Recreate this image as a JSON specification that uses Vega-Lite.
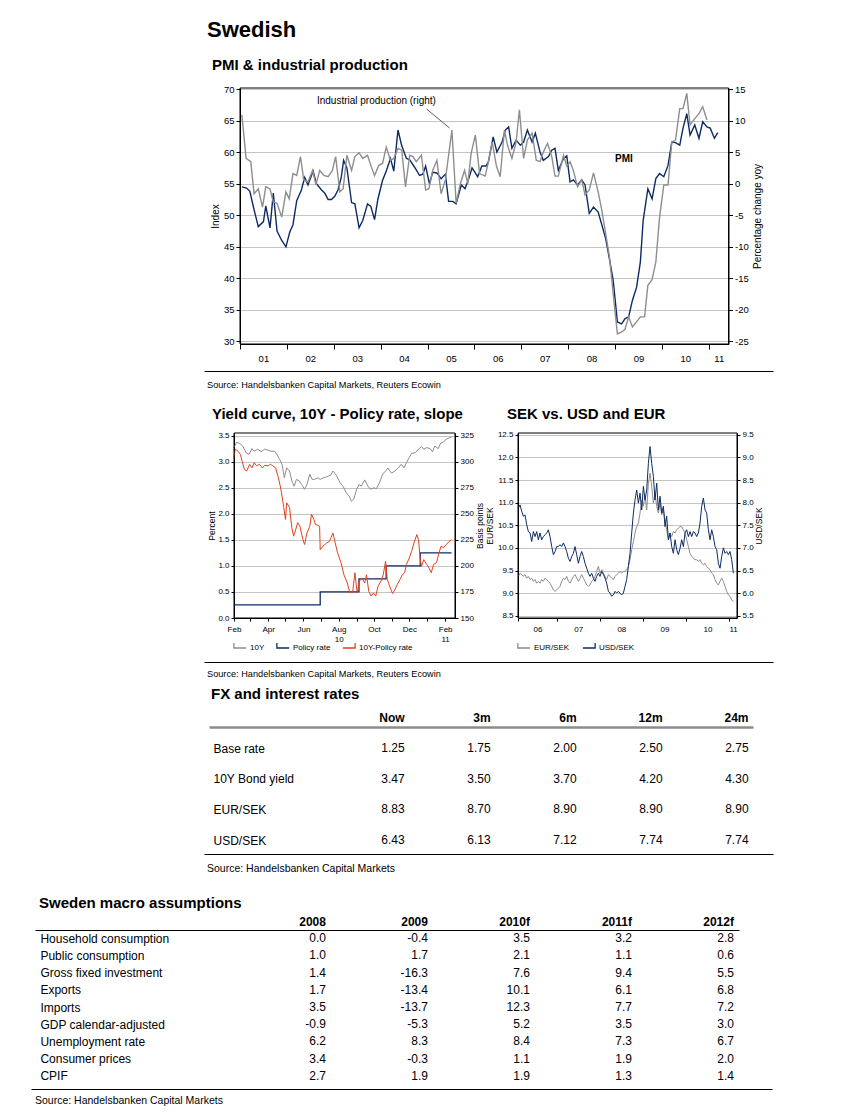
{
"$schema": "https://vega.github.io/schema/vega-lite/v6.json",
"background": "white",
"padding": 0,
"spacing": 0,
"bounds": "flush",
"resolve": {"scale": {"color": "independent"}, "legend": {"color": "independent"}},
"config": {
  "font": "Liberation Sans",
  "view": {"stroke": null},
  "locale": {"number": {"decimal": ".", "thousands": ",", "grouping": [3], "currency": ["$", ""], "minus": "-"}},
  "axis": {"labelColor": "black", "titleColor": "black", "domainColor": "black", "tickColor": "black", "gridColor": "#c4c4c4", "titleFontWeight": "normal", "labelFont": "Liberation Sans", "titleFont": "Liberation Sans", "labelOverlap": false},
  "title": {"anchor": "start", "frame": "group", "baseline": "alphabetic", "color": "black", "fontWeight": "bold", "font": "Liberation Sans"},
  "legend": {"labelFont": "Liberation Sans", "labelColor": "black"},
  "text": {"color": "black", "font": "Liberation Sans"},
  "concat": {"spacing": 0}
},
"datasets": {
  "pmi": [{"t":2001.04,"v":54.5},{"t":2001.14,"v":54.3},{"t":2001.21,"v":53.8},{"t":2001.28,"v":51.5},{"t":2001.39,"v":48.2},{"t":2001.5,"v":49},{"t":2001.55,"v":51.5},{"t":2001.64,"v":48},{"t":2001.71,"v":53.5},{"t":2001.79,"v":47.5},{"t":2001.89,"v":46},{"t":2001.98,"v":45},{"t":2002.06,"v":47.3},{"t":2002.13,"v":48.5},{"t":2002.21,"v":52.3},{"t":2002.31,"v":54},{"t":2002.38,"v":56},{"t":2002.45,"v":54.8},{"t":2002.56,"v":57},{"t":2002.63,"v":55},{"t":2002.74,"v":54},{"t":2002.81,"v":53.5},{"t":2002.88,"v":52.5},{"t":2002.95,"v":52.5},{"t":2003.02,"v":53},{"t":2003.09,"v":54},{"t":2003.16,"v":56},{"t":2003.21,"v":58.7},{"t":2003.28,"v":57.5},{"t":2003.38,"v":52},{"t":2003.45,"v":51.8},{"t":2003.54,"v":48},{"t":2003.62,"v":49.2},{"t":2003.72,"v":51.8},{"t":2003.79,"v":51.4},{"t":2003.87,"v":49.3},{"t":2003.94,"v":52.5},{"t":2004.04,"v":55.5},{"t":2004.12,"v":57},{"t":2004.21,"v":59},{"t":2004.28,"v":57},{"t":2004.37,"v":63.5},{"t":2004.45,"v":61},{"t":2004.55,"v":59},{"t":2004.62,"v":58.8},{"t":2004.69,"v":58},{"t":2004.76,"v":57.2},{"t":2004.83,"v":56.3},{"t":2004.9,"v":56.5},{"t":2004.96,"v":57.8},{"t":2005.04,"v":55},{"t":2005.11,"v":56.8},{"t":2005.2,"v":56.7},{"t":2005.29,"v":55.8},{"t":2005.38,"v":56.5},{"t":2005.45,"v":52.2},{"t":2005.54,"v":52.2},{"t":2005.61,"v":51.8},{"t":2005.72,"v":54.8},{"t":2005.8,"v":54.2},{"t":2005.88,"v":55.8},{"t":2005.95,"v":57.5},{"t":2006.07,"v":56.1},{"t":2006.16,"v":57.8},{"t":2006.25,"v":57.8},{"t":2006.3,"v":58.5},{"t":2006.4,"v":62.4},{"t":2006.48,"v":60},{"t":2006.59,"v":61.6},{"t":2006.66,"v":63.5},{"t":2006.73,"v":64},{"t":2006.8,"v":60.6},{"t":2006.89,"v":61.9},{"t":2006.98,"v":61.1},{"t":2007.05,"v":61.6},{"t":2007.13,"v":63.5},{"t":2007.23,"v":61.6},{"t":2007.3,"v":63},{"t":2007.4,"v":60},{"t":2007.47,"v":58.7},{"t":2007.58,"v":59.3},{"t":2007.65,"v":60.3},{"t":2007.72,"v":60.6},{"t":2007.79,"v":57.1},{"t":2007.9,"v":59},{"t":2007.97,"v":59.4},{"t":2008.04,"v":55.3},{"t":2008.11,"v":55.6},{"t":2008.2,"v":54.8},{"t":2008.29,"v":55.6},{"t":2008.36,"v":54.8},{"t":2008.45,"v":50.3},{"t":2008.54,"v":51.3},{"t":2008.64,"v":50.5},{"t":2008.71,"v":48.7},{"t":2008.8,"v":46.3},{"t":2008.88,"v":43.1},{"t":2008.96,"v":39.7},{"t":2009.05,"v":33.1},{"t":2009.14,"v":32.8},{"t":2009.21,"v":33.6},{"t":2009.29,"v":33.9},{"t":2009.37,"v":36.5},{"t":2009.46,"v":38.6},{"t":2009.54,"v":42.6},{"t":2009.6,"v":49.2},{"t":2009.7,"v":54.2},{"t":2009.79,"v":52.6},{"t":2009.87,"v":55.8},{"t":2009.95,"v":56.6},{"t":2010.04,"v":56.1},{"t":2010.13,"v":57.9},{"t":2010.21,"v":61.6},{"t":2010.29,"v":61.5},{"t":2010.38,"v":61.1},{"t":2010.45,"v":63.8},{"t":2010.53,"v":66.1},{"t":2010.6,"v":62.7},{"t":2010.7,"v":64.3},{"t":2010.79,"v":62.2},{"t":2010.87,"v":64.8},{"t":2010.96,"v":64},{"t":2011.03,"v":63.8},{"t":2011.12,"v":62.2},{"t":2011.19,"v":63.1}],
  "ip": [{"t":2001.04,"v":10.9},{"t":2001.13,"v":4},{"t":2001.23,"v":3.5},{"t":2001.3,"v":-1.6},{"t":2001.39,"v":-0.8},{"t":2001.48,"v":-3.7},{"t":2001.55,"v":-0.5},{"t":2001.64,"v":-0.8},{"t":2001.71,"v":-2.9},{"t":2001.79,"v":-3.1},{"t":2001.89,"v":-5.3},{"t":2001.98,"v":-1.3},{"t":2002.05,"v":-2.4},{"t":2002.13,"v":1.6},{"t":2002.21,"v":1.3},{"t":2002.29,"v":4.3},{"t":2002.36,"v":0.6},{"t":2002.45,"v":0.3},{"t":2002.55,"v":2.1},{"t":2002.62,"v":-0.2},{"t":2002.7,"v":2.1},{"t":2002.79,"v":1.3},{"t":2002.88,"v":1.1},{"t":2002.97,"v":2.1},{"t":2003.04,"v":4.3},{"t":2003.13,"v":-1.3},{"t":2003.2,"v":-0.8},{"t":2003.28,"v":4.5},{"t":2003.38,"v":2.1},{"t":2003.45,"v":4.3},{"t":2003.54,"v":4.9},{"t":2003.62,"v":4},{"t":2003.72,"v":4.5},{"t":2003.8,"v":2.7},{"t":2003.87,"v":1.3},{"t":2003.96,"v":2.9},{"t":2004.04,"v":3.2},{"t":2004.12,"v":5.8},{"t":2004.21,"v":3.7},{"t":2004.28,"v":4},{"t":2004.37,"v":5.6},{"t":2004.45,"v":5.3},{"t":2004.53,"v":-0.5},{"t":2004.62,"v":4.5},{"t":2004.69,"v":4.3},{"t":2004.76,"v":3.5},{"t":2004.87,"v":4.5},{"t":2004.96,"v":-1},{"t":2005.03,"v":-0.8},{"t":2005.11,"v":2.1},{"t":2005.2,"v":3.7},{"t":2005.29,"v":-1.6},{"t":2005.38,"v":0.6},{"t":2005.45,"v":4.5},{"t":2005.52,"v":8.5},{"t":2005.61,"v":-3.1},{"t":2005.7,"v":0},{"t":2005.79,"v":2.1},{"t":2005.86,"v":0},{"t":2005.93,"v":4.8},{"t":2006.02,"v":7.7},{"t":2006.11,"v":1.6},{"t":2006.23,"v":1.2},{"t":2006.3,"v":3.5},{"t":2006.38,"v":6.6},{"t":2006.47,"v":2.8},{"t":2006.55,"v":1.1},{"t":2006.64,"v":8.5},{"t":2006.71,"v":6},{"t":2006.8,"v":4},{"t":2006.89,"v":6.6},{"t":2006.96,"v":11.7},{"t":2007.05,"v":4},{"t":2007.13,"v":6.9},{"t":2007.23,"v":8},{"t":2007.32,"v":3.7},{"t":2007.4,"v":3.5},{"t":2007.47,"v":5},{"t":2007.56,"v":6.4},{"t":2007.65,"v":4.3},{"t":2007.72,"v":1.2},{"t":2007.79,"v":1.2},{"t":2007.9,"v":4.5},{"t":2007.97,"v":2.8},{"t":2008.04,"v":3.5},{"t":2008.11,"v":2.1},{"t":2008.2,"v":-0.5},{"t":2008.29,"v":0.6},{"t":2008.36,"v":-1.8},{"t":2008.45,"v":-1},{"t":2008.54,"v":1.7},{"t":2008.64,"v":-1.3},{"t":2008.71,"v":-3.9},{"t":2008.8,"v":-7.9},{"t":2008.88,"v":-11.6},{"t":2008.96,"v":-17.4},{"t":2009.05,"v":-23.8},{"t":2009.14,"v":-23.5},{"t":2009.21,"v":-23.1},{"t":2009.29,"v":-21.1},{"t":2009.37,"v":-22.7},{"t":2009.46,"v":-21.9},{"t":2009.54,"v":-21.1},{"t":2009.63,"v":-21.1},{"t":2009.7,"v":-16.1},{"t":2009.79,"v":-15.2},{"t":2009.87,"v":-12.4},{"t":2009.95,"v":-5.3},{"t":2010.04,"v":-0.2},{"t":2010.13,"v":-0.2},{"t":2010.21,"v":6.6},{"t":2010.29,"v":6.9},{"t":2010.38,"v":11.9},{"t":2010.45,"v":11.9},{"t":2010.53,"v":14.3},{"t":2010.6,"v":9.3},{"t":2010.7,"v":10.3},{"t":2010.79,"v":11.1},{"t":2010.87,"v":12.2},{"t":2010.96,"v":10.1}],
  "y10": [{"d":"2010-02-01","v":3.27},{"d":"2010-02-05","v":3.37},{"d":"2010-02-11","v":3.35},{"d":"2010-02-16","v":3.3},{"d":"2010-02-22","v":3.17},{"d":"2010-02-27","v":3.14},{"d":"2010-03-04","v":3.25},{"d":"2010-03-08","v":3.2},{"d":"2010-03-14","v":3.24},{"d":"2010-03-20","v":3.19},{"d":"2010-03-26","v":3.24},{"d":"2010-04-01","v":3.22},{"d":"2010-04-06","v":3.2},{"d":"2010-04-12","v":3.2},{"d":"2010-04-16","v":3.14},{"d":"2010-04-21","v":3.04},{"d":"2010-04-25","v":2.95},{"d":"2010-04-29","v":2.69},{"d":"2010-05-03","v":2.88},{"d":"2010-05-08","v":2.82},{"d":"2010-05-12","v":2.63},{"d":"2010-05-16","v":2.53},{"d":"2010-05-20","v":2.66},{"d":"2010-05-25","v":2.63},{"d":"2010-05-29","v":2.56},{"d":"2010-06-03","v":2.47},{"d":"2010-06-07","v":2.56},{"d":"2010-06-12","v":2.76},{"d":"2010-06-16","v":2.66},{"d":"2010-06-20","v":2.66},{"d":"2010-06-26","v":2.69},{"d":"2010-06-30","v":2.66},{"d":"2010-07-05","v":2.69},{"d":"2010-07-11","v":2.71},{"d":"2010-07-18","v":2.74},{"d":"2010-07-22","v":2.82},{"d":"2010-07-28","v":2.74},{"d":"2010-08-03","v":2.6},{"d":"2010-08-09","v":2.52},{"d":"2010-08-14","v":2.4},{"d":"2010-08-19","v":2.34},{"d":"2010-08-23","v":2.24},{"d":"2010-08-27","v":2.28},{"d":"2010-09-01","v":2.47},{"d":"2010-09-05","v":2.56},{"d":"2010-09-09","v":2.53},{"d":"2010-09-15","v":2.65},{"d":"2010-09-21","v":2.52},{"d":"2010-09-25","v":2.47},{"d":"2010-10-01","v":2.5},{"d":"2010-10-05","v":2.48},{"d":"2010-10-11","v":2.61},{"d":"2010-10-16","v":2.76},{"d":"2010-10-21","v":2.82},{"d":"2010-10-25","v":2.88},{"d":"2010-10-31","v":2.78},{"d":"2010-11-06","v":2.82},{"d":"2010-11-12","v":2.88},{"d":"2010-11-17","v":2.95},{"d":"2010-11-22","v":2.88},{"d":"2010-11-26","v":2.98},{"d":"2010-12-01","v":3.08},{"d":"2010-12-05","v":3.16},{"d":"2010-12-11","v":3.17},{"d":"2010-12-17","v":3.24},{"d":"2010-12-22","v":3.29},{"d":"2010-12-26","v":3.24},{"d":"2010-12-31","v":3.27},{"d":"2011-01-06","v":3.25},{"d":"2011-01-10","v":3.19},{"d":"2011-01-14","v":3.3},{"d":"2011-01-20","v":3.25},{"d":"2011-01-24","v":3.35},{"d":"2011-01-29","v":3.38},{"d":"2011-02-03","v":3.43},{"d":"2011-02-09","v":3.46},{"d":"2011-02-12","v":3.47}],
  "spread": [{"d":"2010-02-01","v":304},{"d":"2010-02-03","v":312},{"d":"2010-02-08","v":310},{"d":"2010-02-12","v":307},{"d":"2010-02-15","v":300.5},{"d":"2010-02-19","v":292.5},{"d":"2010-02-23","v":291},{"d":"2010-02-28","v":297.5},{"d":"2010-03-04","v":294},{"d":"2010-03-08","v":299},{"d":"2010-03-12","v":296},{"d":"2010-03-17","v":297.5},{"d":"2010-03-22","v":294},{"d":"2010-03-26","v":296.5},{"d":"2010-04-01","v":296},{"d":"2010-04-05","v":297.5},{"d":"2010-04-09","v":296},{"d":"2010-04-14","v":294},{"d":"2010-04-18","v":286},{"d":"2010-04-22","v":276.5},{"d":"2010-04-25","v":267},{"d":"2010-04-28","v":256},{"d":"2010-05-01","v":244.5},{"d":"2010-05-03","v":260.5},{"d":"2010-05-08","v":256},{"d":"2010-05-12","v":236.5},{"d":"2010-05-15","v":228.5},{"d":"2010-05-18","v":233.5},{"d":"2010-05-22","v":241.5},{"d":"2010-05-26","v":238},{"d":"2010-05-31","v":225.5},{"d":"2010-06-03","v":220.5},{"d":"2010-06-07","v":231.5},{"d":"2010-06-12","v":238},{"d":"2010-06-15","v":249.5},{"d":"2010-06-19","v":244.5},{"d":"2010-06-22","v":239.5},{"d":"2010-06-26","v":239},{"d":"2010-06-29","v":238},{"d":"2010-06-30","v":215.5},{"d":"2010-07-05","v":219},{"d":"2010-07-11","v":222},{"d":"2010-07-16","v":223.5},{"d":"2010-07-22","v":231.5},{"d":"2010-07-26","v":222},{"d":"2010-07-30","v":212.5},{"d":"2010-08-05","v":203},{"d":"2010-08-10","v":191.5},{"d":"2010-08-16","v":183.5},{"d":"2010-08-20","v":174.5},{"d":"2010-08-25","v":174.5},{"d":"2010-08-29","v":193.5},{"d":"2010-09-02","v":174},{"d":"2010-09-06","v":185.5},{"d":"2010-09-10","v":188.5},{"d":"2010-09-15","v":183.5},{"d":"2010-09-18","v":191.5},{"d":"2010-09-22","v":175.5},{"d":"2010-09-26","v":171},{"d":"2010-09-30","v":174},{"d":"2010-10-04","v":171},{"d":"2010-10-08","v":180.5},{"d":"2010-10-13","v":185.5},{"d":"2010-10-17","v":191.5},{"d":"2010-10-21","v":204.5},{"d":"2010-10-24","v":187},{"d":"2010-10-28","v":180.5},{"d":"2010-11-02","v":173.5},{"d":"2010-11-06","v":177},{"d":"2010-11-10","v":182},{"d":"2010-11-15","v":187},{"d":"2010-11-19","v":191.5},{"d":"2010-11-23","v":193.5},{"d":"2010-11-26","v":201.5},{"d":"2010-12-01","v":207.5},{"d":"2010-12-05","v":214},{"d":"2010-12-09","v":222},{"d":"2010-12-14","v":230},{"d":"2010-12-17","v":225},{"d":"2010-12-20","v":206},{"d":"2010-12-22","v":199.5},{"d":"2010-12-26","v":206},{"d":"2010-12-31","v":201.5},{"d":"2011-01-04","v":198},{"d":"2011-01-08","v":193.5},{"d":"2011-01-12","v":201.5},{"d":"2011-01-17","v":203},{"d":"2011-01-21","v":212},{"d":"2011-01-25","v":219},{"d":"2011-01-29","v":217.5},{"d":"2011-02-03","v":220.5},{"d":"2011-02-08","v":223.5},{"d":"2011-02-12","v":225}],
  "policy": [{"d":"2010-02-01","v":0.25},{"d":"2010-06-30","v":0.5},{"d":"2010-09-05","v":0.75},{"d":"2010-10-22","v":1.0},{"d":"2010-12-20","v":1.25},{"d":"2011-02-12","v":1.25}],
  "sek": [{"t":2006.111,"eur":9.37,"usd":7.88},{"t":2006.149,"eur":9.44,"usd":7.95},{"t":2006.188,"eur":9.41,"usd":7.81},{"t":2006.227,"eur":9.37,"usd":7.7},{"t":2006.265,"eur":9.41,"usd":7.73},{"t":2006.304,"eur":9.33,"usd":7.51},{"t":2006.343,"eur":9.37,"usd":7.36},{"t":2006.381,"eur":9.3,"usd":7.33},{"t":2006.42,"eur":9.33,"usd":7.14},{"t":2006.459,"eur":9.26,"usd":7.36},{"t":2006.497,"eur":9.3,"usd":7.25},{"t":2006.536,"eur":9.22,"usd":7.36},{"t":2006.575,"eur":9.26,"usd":7.18},{"t":2006.613,"eur":9.22,"usd":7.33},{"t":2006.652,"eur":9.3,"usd":7.18},{"t":2006.691,"eur":9.26,"usd":7.25},{"t":2006.729,"eur":9.33,"usd":7.29},{"t":2006.768,"eur":9.3,"usd":7.33},{"t":2006.807,"eur":9.26,"usd":7.4},{"t":2006.845,"eur":9.22,"usd":7.25},{"t":2006.884,"eur":9.15,"usd":7.03},{"t":2006.923,"eur":9.07,"usd":6.85},{"t":2006.961,"eur":9.04,"usd":6.92},{"t":2007.0,"eur":9.07,"usd":7.03},{"t":2007.039,"eur":9.11,"usd":7.03},{"t":2007.077,"eur":9.15,"usd":7.07},{"t":2007.116,"eur":9.26,"usd":7.03},{"t":2007.155,"eur":9.33,"usd":7.11},{"t":2007.193,"eur":9.3,"usd":7.03},{"t":2007.232,"eur":9.37,"usd":6.92},{"t":2007.271,"eur":9.26,"usd":6.77},{"t":2007.309,"eur":9.22,"usd":6.7},{"t":2007.348,"eur":9.3,"usd":6.81},{"t":2007.387,"eur":9.37,"usd":6.88},{"t":2007.425,"eur":9.41,"usd":7.03},{"t":2007.464,"eur":9.33,"usd":6.85},{"t":2007.503,"eur":9.26,"usd":6.66},{"t":2007.541,"eur":9.33,"usd":6.81},{"t":2007.58,"eur":9.41,"usd":6.92},{"t":2007.619,"eur":9.33,"usd":6.81},{"t":2007.657,"eur":9.26,"usd":6.66},{"t":2007.696,"eur":9.18,"usd":6.55},{"t":2007.735,"eur":9.15,"usd":6.44},{"t":2007.773,"eur":9.18,"usd":6.37},{"t":2007.812,"eur":9.26,"usd":6.44},{"t":2007.851,"eur":9.3,"usd":6.33},{"t":2007.889,"eur":9.37,"usd":6.26},{"t":2007.928,"eur":9.48,"usd":6.37},{"t":2007.967,"eur":9.59,"usd":6.44},{"t":2008.005,"eur":9.44,"usd":6.37},{"t":2008.044,"eur":9.52,"usd":6.48},{"t":2008.083,"eur":9.44,"usd":6.41},{"t":2008.121,"eur":9.37,"usd":6.33},{"t":2008.16,"eur":9.3,"usd":6.22},{"t":2008.199,"eur":9.41,"usd":6.04},{"t":2008.237,"eur":9.37,"usd":6.0},{"t":2008.276,"eur":9.33,"usd":5.93},{"t":2008.315,"eur":9.3,"usd":5.96},{"t":2008.353,"eur":9.37,"usd":6.04},{"t":2008.392,"eur":9.41,"usd":6.0},{"t":2008.431,"eur":9.44,"usd":6.04},{"t":2008.469,"eur":9.48,"usd":6.0},{"t":2008.508,"eur":9.44,"usd":5.96},{"t":2008.547,"eur":9.48,"usd":6.0},{"t":2008.585,"eur":9.48,"usd":6.15},{"t":2008.624,"eur":9.52,"usd":6.3},{"t":2008.663,"eur":9.59,"usd":6.59},{"t":2008.701,"eur":9.74,"usd":6.88},{"t":2008.74,"eur":9.96,"usd":7.33},{"t":2008.779,"eur":10.14,"usd":7.77},{"t":2008.817,"eur":10.33,"usd":8.06},{"t":2008.856,"eur":10.47,"usd":8.28},{"t":2008.895,"eur":10.55,"usd":7.99},{"t":2008.933,"eur":10.77,"usd":8.21},{"t":2008.972,"eur":11.06,"usd":7.84},{"t":2009.011,"eur":10.92,"usd":8.36},{"t":2009.049,"eur":11.14,"usd":8.06},{"t":2009.088,"eur":10.84,"usd":8.28},{"t":2009.127,"eur":11.43,"usd":8.87},{"t":2009.165,"eur":11.65,"usd":9.24},{"t":2009.204,"eur":11.36,"usd":8.87},{"t":2009.243,"eur":10.99,"usd":8.58},{"t":2009.281,"eur":11.21,"usd":8.06},{"t":2009.32,"eur":10.92,"usd":8.43},{"t":2009.359,"eur":10.77,"usd":7.84},{"t":2009.397,"eur":10.99,"usd":8.14},{"t":2009.436,"eur":10.73,"usd":7.77},{"t":2009.475,"eur":10.84,"usd":7.92},{"t":2009.513,"eur":10.62,"usd":7.47},{"t":2009.552,"eur":10.4,"usd":7.7},{"t":2009.591,"eur":10.18,"usd":7.18},{"t":2009.629,"eur":10.33,"usd":7.33},{"t":2009.668,"eur":10.25,"usd":7.03},{"t":2009.707,"eur":10.36,"usd":6.88},{"t":2009.745,"eur":10.33,"usd":7.18},{"t":2009.784,"eur":10.4,"usd":6.96},{"t":2009.823,"eur":10.44,"usd":6.85},{"t":2009.861,"eur":10.47,"usd":6.99},{"t":2009.9,"eur":10.47,"usd":7.18},{"t":2009.939,"eur":10.4,"usd":7.03},{"t":2009.977,"eur":10.33,"usd":7.33},{"t":2010.016,"eur":10.18,"usd":7.4},{"t":2010.055,"eur":10.03,"usd":7.25},{"t":2010.093,"eur":9.88,"usd":7.36},{"t":2010.132,"eur":9.81,"usd":7.25},{"t":2010.171,"eur":9.77,"usd":7.36},{"t":2010.209,"eur":9.74,"usd":7.33},{"t":2010.248,"eur":9.74,"usd":7.25},{"t":2010.287,"eur":9.7,"usd":7.33},{"t":2010.325,"eur":9.74,"usd":7.55},{"t":2010.364,"eur":9.66,"usd":7.92},{"t":2010.403,"eur":9.63,"usd":8.1},{"t":2010.441,"eur":9.66,"usd":7.84},{"t":2010.48,"eur":9.59,"usd":7.77},{"t":2010.519,"eur":9.55,"usd":7.4},{"t":2010.557,"eur":9.52,"usd":7.18},{"t":2010.596,"eur":9.44,"usd":7.4},{"t":2010.635,"eur":9.41,"usd":7.25},{"t":2010.673,"eur":9.3,"usd":7.03},{"t":2010.712,"eur":9.22,"usd":6.96},{"t":2010.751,"eur":9.18,"usd":6.66},{"t":2010.789,"eur":9.26,"usd":6.55},{"t":2010.828,"eur":9.33,"usd":6.81},{"t":2010.867,"eur":9.26,"usd":7.0},{"t":2010.905,"eur":9.15,"usd":6.88},{"t":2010.944,"eur":9.04,"usd":6.92},{"t":2010.983,"eur":8.96,"usd":6.85},{"t":2011.021,"eur":8.93,"usd":6.92},{"t":2011.06,"eur":8.85,"usd":6.74},{"t":2011.099,"eur":8.81,"usd":6.44}],
  "fx": [{"item":"Base rate","col":"Now","v":1.25},{"item":"Base rate","col":"3m","v":1.75},{"item":"Base rate","col":"6m","v":2.0},{"item":"Base rate","col":"12m","v":2.5},{"item":"Base rate","col":"24m","v":2.75},{"item":"10Y Bond yield","col":"Now","v":3.47},{"item":"10Y Bond yield","col":"3m","v":3.5},{"item":"10Y Bond yield","col":"6m","v":3.7},{"item":"10Y Bond yield","col":"12m","v":4.2},{"item":"10Y Bond yield","col":"24m","v":4.3},{"item":"EUR/SEK","col":"Now","v":8.83},{"item":"EUR/SEK","col":"3m","v":8.7},{"item":"EUR/SEK","col":"6m","v":8.9},{"item":"EUR/SEK","col":"12m","v":8.9},{"item":"EUR/SEK","col":"24m","v":8.9},{"item":"USD/SEK","col":"Now","v":6.43},{"item":"USD/SEK","col":"3m","v":6.13},{"item":"USD/SEK","col":"6m","v":7.12},{"item":"USD/SEK","col":"12m","v":7.74},{"item":"USD/SEK","col":"24m","v":7.74}],
  "macro": [{"item":"Household consumption","col":"2008","v":0.0},{"item":"Household consumption","col":"2009","v":-0.4},{"item":"Household consumption","col":"2010f","v":3.5},{"item":"Household consumption","col":"2011f","v":3.2},{"item":"Household consumption","col":"2012f","v":2.8},{"item":"Public consumption","col":"2008","v":1.0},{"item":"Public consumption","col":"2009","v":1.7},{"item":"Public consumption","col":"2010f","v":2.1},{"item":"Public consumption","col":"2011f","v":1.1},{"item":"Public consumption","col":"2012f","v":0.6},{"item":"Gross fixed investment","col":"2008","v":1.4},{"item":"Gross fixed investment","col":"2009","v":-16.3},{"item":"Gross fixed investment","col":"2010f","v":7.6},{"item":"Gross fixed investment","col":"2011f","v":9.4},{"item":"Gross fixed investment","col":"2012f","v":5.5},{"item":"Exports","col":"2008","v":1.7},{"item":"Exports","col":"2009","v":-13.4},{"item":"Exports","col":"2010f","v":10.1},{"item":"Exports","col":"2011f","v":6.1},{"item":"Exports","col":"2012f","v":6.8},{"item":"Imports","col":"2008","v":3.5},{"item":"Imports","col":"2009","v":-13.7},{"item":"Imports","col":"2010f","v":12.3},{"item":"Imports","col":"2011f","v":7.7},{"item":"Imports","col":"2012f","v":7.2},{"item":"GDP calendar-adjusted","col":"2008","v":-0.9},{"item":"GDP calendar-adjusted","col":"2009","v":-5.3},{"item":"GDP calendar-adjusted","col":"2010f","v":5.2},{"item":"GDP calendar-adjusted","col":"2011f","v":3.5},{"item":"GDP calendar-adjusted","col":"2012f","v":3.0},{"item":"Unemployment rate","col":"2008","v":6.2},{"item":"Unemployment rate","col":"2009","v":8.3},{"item":"Unemployment rate","col":"2010f","v":8.4},{"item":"Unemployment rate","col":"2011f","v":7.3},{"item":"Unemployment rate","col":"2012f","v":6.7},{"item":"Consumer prices","col":"2008","v":3.4},{"item":"Consumer prices","col":"2009","v":-0.3},{"item":"Consumer prices","col":"2010f","v":1.1},{"item":"Consumer prices","col":"2011f","v":1.9},{"item":"Consumer prices","col":"2012f","v":2.0},{"item":"CPIF","col":"2008","v":2.7},{"item":"CPIF","col":"2009","v":1.9},{"item":"CPIF","col":"2010f","v":1.9},{"item":"CPIF","col":"2011f","v":1.3},{"item":"CPIF","col":"2012f","v":1.4}]
},
"vconcat": [
  {"width": 843, "height": 45, "data": {"values": []}, "mark": "point", "title": {"text": "Swedish", "fontSize": 22, "dx": 207, "offset": -42.3}},
  {"width": 843, "height": 43, "data": {"values": []}, "mark": "point", "title": {"text": "PMI & industrial production", "fontSize": 15, "dx": 212, "offset": -27.5}},
  {"width": 843, "height": 256,
   "layer": [
    {"data": {"name": "pmi"}, "mark": {"type": "line", "color": "#0d2b63", "strokeWidth": 1.4},
     "encoding": {
      "x": {"field": "t", "type": "quantitative", "scale": {"domain": [2001, 2011.42], "range": [240, 728.5], "nice": false, "zero": false},
            "axis": {"orient": "bottom", "title": null, "values": [2001,2002,2003,2004,2005,2006,2007,2008,2009,2010,2011], "labelExpr": "(datum.value % 100 < 10 ? '0' : '') + (datum.value % 100)", "labelOffset": {"condition": {"test": "datum.value > 2010.5", "value": 10}, "value": 23.4}, "grid": false, "tickSize": 5, "labelPadding": 4, "labelFontSize": 9.5, "labelFlush": false, "labelOverlap": false}},
      "y": {"field": "v", "type": "quantitative", "scale": {"domain": [29.6, 70.16], "nice": false, "zero": false},
            "axis": {"orient": "left", "title": "Index", "offset": -240, "titleFontSize": 10, "titlePadding": 3, "values": [30,35,40,45,50,55,60,65,70], "labelFontSize": 9.5, "tickSize": 4, "labelPadding": 2, "grid": true, "labelOverlap": false}}
     }},
    {"data": {"name": "ip"}, "mark": {"type": "line", "color": "#8e8e8e", "strokeWidth": 1.4},
     "encoding": {
      "x": {"field": "t", "type": "quantitative"},
      "y": {"field": "v", "type": "quantitative", "scale": {"domain": [-25.4, 15.16], "nice": false, "zero": false},
            "axis": {"orient": "right", "offset": -114.5, "title": "Percentage change yoy", "titleAngle": 270, "titleBaseline": "top", "titleFontSize": 10, "titlePadding": 4, "values": [-25,-20,-15,-10,-5,0,5,10,15], "labelFontSize": 9.5, "tickSize": 4, "labelPadding": 2, "grid": false, "labelOverlap": false}}
     }},
    {"data": {"values": [{}]},
     "layer": [
      {"mark": {"type": "rect", "filled": false, "color": "black", "strokeWidth": 1},
       "encoding": {"x": {"datum": 2001}, "x2": {"datum": 2011.42}, "y": {"datum": 29.6, "scale": {"domain": [29.6, 70.16], "nice": false, "zero": false}, "axis": null}, "y2": {"datum": 70.16}}},
      {"mark": {"type": "text", "fontSize": 10, "text": "Industrial production (right)"},
       "encoding": {"x": {"datum": 2003.91}, "y": {"datum": 68.1, "axis": null}}},
      {"mark": {"type": "rule", "color": "#333333", "strokeWidth": 0.8},
       "encoding": {"x": {"datum": 2004.98}, "y": {"datum": 66.83, "axis": null}, "x2": {"datum": 2005.47}, "y2": {"datum": 63.82}}},
      {"mark": {"type": "text", "fontSize": 10, "fontWeight": "bold", "text": "PMI"},
       "encoding": {"x": {"datum": 2009.19}, "y": {"datum": 58.9, "axis": null}}}
     ]}
   ],
   "resolve": {"scale": {"y": "independent"}, "axis": {"y": "independent"}}},
  {"width": 843, "height": 27, "data": {"values": []}, "mark": "point", "title": {"text": "SEK vs. USD and EUR", "fontSize": 15, "dx": 507, "offset": -77.5}},
  {"width": 843, "height": 26, "data": {"values": []}, "mark": "point",
   "encoding": {"x": {"datum": 0, "type": "quantitative", "scale": {"domain": [0, 1], "range": [204, 773], "nice": false}, "axis": {"orient": "top", "labels": false, "ticks": false, "grid": false, "title": null, "domainColor": "black", "domainWidth": 1}}},
   "title": {"text": "Source: Handelsbanken Capital Markets, Reuters Ecowin", "fontSize": 9.2, "fontWeight": "normal", "dx": 207, "offset": -19.2}},
  {"width": 843, "height": 36, "data": {"values": []}, "mark": "point", "title": {"text": "Yield curve, 10Y - Policy rate, slope", "fontSize": 15, "dx": 212, "offset": -24.5}},
  {"width": 843, "height": 185,
   "layer": [
    {"layer": [
      {"data": {"name": "y10"}, "mark": {"type": "line", "strokeWidth": 1},
       "encoding": {
        "x": {"field": "d", "type": "temporal", "scale": {"type": "utc", "domain": [{"year": 2010, "month": 2, "date": 1, "utc": true}, {"year": 2011, "month": 2, "date": 18, "utc": true}], "range": [234, 455], "nice": false},
              "axis": {"orient": "bottom", "title": null, "grid": false, "values": [{"year":2010,"month":2,"date":1,"utc":true},{"year":2010,"month":3,"date":1,"utc":true},{"year":2010,"month":4,"date":1,"utc":true},{"year":2010,"month":5,"date":1,"utc":true},{"year":2010,"month":6,"date":1,"utc":true},{"year":2010,"month":7,"date":1,"utc":true},{"year":2010,"month":8,"date":1,"utc":true},{"year":2010,"month":9,"date":1,"utc":true},{"year":2010,"month":10,"date":1,"utc":true},{"year":2010,"month":11,"date":1,"utc":true},{"year":2010,"month":12,"date":1,"utc":true},{"year":2011,"month":1,"date":1,"utc":true},{"year":2011,"month":2,"date":1,"utc":true}],
               "labelExpr": "utcmonth(datum.value) == 7 ? ['Aug', '10'] : (utcmonth(datum.value) == 1 && utcyear(datum.value) == 2011 ? ['Feb', '11'] : (utcmonth(datum.value) % 2 == 1 ? utcFormat(datum.value, '%b') : ''))",
               "labelFontSize": 8, "labelLineHeight": 10.5, "tickSize": 3, "labelPadding": 4, "labelFlush": false, "labelOverlap": false}},
        "y": {"field": "v", "type": "quantitative", "scale": {"domain": [0, 3.55], "nice": false, "zero": false},
              "axis": {"orient": "left", "title": "Percent", "offset": -234, "titleFontSize": 8.5, "titlePadding": 1, "values": [0,0.5,1,1.5,2,2.5,3,3.5], "format": ".1f", "labelFontSize": 8, "tickSize": 3, "labelPadding": 2, "grid": true, "labelOverlap": false}},
        "color": {"datum": "10Y", "scale": {"domain": ["10Y", "Policy rate", "10Y-Policy rate"], "range": ["#8c8c8c", "#0d2b63", "#e2421c"]},
                  "legend": {"title": null, "orient": "none", "legendX": 233, "legendY": 208, "direction": "horizontal", "symbolType": "stroke", "symbolSize": 150, "symbolStrokeWidth": 1.3, "labelFontSize": 8, "labelOffset": 3, "columnPadding": 9, "padding": 0,
                             "encode": {"symbols": {"update": {"shape": {"signal": "datum.value === '10Y-Policy rate' ? 'M-1,0H1V-0.8' : 'M-1,-0.8V0H1'"}, "fill": {"value": "transparent"}}}}}}
       }},
      {"data": {"name": "policy"}, "mark": {"type": "line", "interpolate": "step-after", "strokeWidth": 1.3},
       "encoding": {"x": {"field": "d", "type": "temporal"}, "y": {"field": "v", "type": "quantitative", "scale": {"domain": [0, 3.55], "nice": false, "zero": false}, "axis": null}, "color": {"datum": "Policy rate"}}},
      {"data": {"name": "spread"}, "mark": {"type": "line", "strokeWidth": 1},
       "encoding": {
        "x": {"field": "d", "type": "temporal"},
        "y": {"field": "v", "type": "quantitative", "scale": {"domain": [150, 327.5], "nice": false, "zero": false},
              "axis": {"orient": "right", "offset": -388, "title": "Basis points", "titleAngle": 270, "titleBaseline": "top", "titleFontSize": 8.5, "titlePadding": 2, "values": [150,175,200,225,250,275,300,325], "labelFontSize": 8, "tickSize": 3, "labelPadding": 2, "grid": false, "labelOverlap": false}},
        "color": {"datum": "10Y-Policy rate"}
       }},
      {"data": {"values": [{}]}, "mark": {"type": "rect", "filled": false, "color": "black", "strokeWidth": 1},
       "encoding": {"x": {"datum": {"year": 2010, "month": 2, "date": 1, "utc": true}, "type": "temporal"}, "x2": {"datum": {"year": 2011, "month": 2, "date": 18, "utc": true}}, "y": {"datum": 0, "scale": {"domain": [0, 3.55], "nice": false, "zero": false}, "axis": null}, "y2": {"datum": 3.55}}}
     ],
     "resolve": {"scale": {"y": "independent"}, "axis": {"y": "independent"}}},
    {"layer": [
      {"data": {"name": "sek"}, "mark": {"type": "line", "strokeWidth": 1},
       "encoding": {
        "x": {"field": "t", "type": "quantitative", "scale": {"domain": [2006.102, 2011.183], "range": [518, 737], "nice": false, "zero": false},
              "axis": {"orient": "bottom", "title": null, "grid": false, "values": [2006.102, 2007, 2008, 2009, 2010, 2011], "labelExpr": "(floor(datum.value) % 100 < 10 ? '0' : '') + (floor(datum.value) % 100)", "labelOffset": {"condition": [{"test": "datum.value < 2007", "value": 19.4}, {"test": "datum.value > 2010.5", "value": 4}], "value": 21.55}, "labelFontSize": 8, "tickSize": 3, "labelPadding": 4, "labelFlush": false, "labelOverlap": false}},
        "y": {"field": "eur", "type": "quantitative", "scale": {"domain": [8.45, 12.54], "nice": false, "zero": false},
              "axis": {"orient": "left", "title": "EUR/SEK", "offset": -518, "titleFontSize": 8.5, "titlePadding": 3, "values": [8.5,9,9.5,10,10.5,11,11.5,12,12.5], "format": ".1f", "labelFontSize": 8, "tickSize": 3, "labelPadding": 2, "grid": true, "labelOverlap": false}},
        "color": {"datum": "EUR/SEK", "scale": {"domain": ["EUR/SEK", "USD/SEK"], "range": ["#8c8c8c", "#0d2b63"]},
                  "legend": {"title": null, "orient": "none", "legendX": 517, "legendY": 208, "direction": "horizontal", "symbolType": "stroke", "symbolSize": 150, "symbolStrokeWidth": 1.3, "labelFontSize": 8, "labelOffset": 3, "columnPadding": 10, "padding": 0,
                             "encode": {"symbols": {"update": {"shape": {"signal": "datum.value === 'USD/SEK' ? 'M-1,0H1V-0.8' : 'M-1,-0.8V0H1'"}, "fill": {"value": "transparent"}}}}}}
       }},
      {"data": {"name": "sek"}, "mark": {"type": "line", "strokeWidth": 1},
       "encoding": {
        "x": {"field": "t", "type": "quantitative"},
        "y": {"field": "usd", "type": "quantitative", "scale": {"domain": [5.45, 9.54], "nice": false, "zero": false},
              "axis": {"orient": "right", "offset": -106, "title": "USD/SEK", "titleAngle": 270, "titleBaseline": "top", "titleFontSize": 8.5, "titlePadding": 1, "values": [5.5,6,6.5,7,7.5,8,8.5,9,9.5], "format": ".1f", "labelFontSize": 8, "tickSize": 3, "labelPadding": 2, "grid": false, "labelOverlap": false}},
        "color": {"datum": "USD/SEK"}
       }},
      {"data": {"values": [{}]}, "mark": {"type": "rect", "filled": false, "color": "black", "strokeWidth": 1},
       "encoding": {"x": {"datum": 2006.102}, "x2": {"datum": 2011.183}, "y": {"datum": 8.45, "scale": {"domain": [8.45, 12.54], "nice": false, "zero": false}, "axis": null}, "y2": {"datum": 12.54}}}
     ],
     "resolve": {"scale": {"y": "independent"}, "axis": {"y": "independent"}}}
   ],
   "resolve": {"scale": {"x": "independent", "y": "independent", "color": "independent"}, "axis": {"x": "independent", "y": "independent"}, "legend": {"color": "independent"}}},
  {"width": 843, "height": 44, "data": {"values": []}, "mark": "point"},
  {"width": 843, "height": 19, "data": {"values": []}, "mark": "point",
   "encoding": {"x": {"datum": 0, "type": "quantitative", "scale": {"domain": [0, 1], "range": [204, 773], "nice": false}, "axis": {"orient": "top", "labels": false, "ticks": false, "grid": false, "title": null, "domainColor": "black", "domainWidth": 1}}},
   "title": {"text": "Source: Handelsbanken Capital Markets, Reuters Ecowin", "fontSize": 9.2, "fontWeight": "normal", "dx": 207, "offset": -16.7}},
  {"width": 843, "height": 46, "data": {"values": []}, "mark": "point", "title": {"text": "FX and interest rates", "fontSize": 15, "dx": 211, "offset": -20.5}},
  {"width": 843, "height": 127, "data": {"name": "fx"},
   "mark": {"type": "text", "align": "right", "baseline": "middle", "fontSize": 12},
   "encoding": {
    "x": {"field": "col", "type": "nominal", "bandPosition": 1, "scale": {"type": "band", "domain": ["Now", "3m", "6m", "12m", "24m"], "range": [209, 753], "paddingInner": 0, "paddingOuter": 0.663, "align": 0.961},
          "axis": {"orient": "top", "title": null, "ticks": false, "tickSize": 0, "domainColor": "#8c8c8c", "domainWidth": 2.5, "labelFontWeight": "bold", "labelFontSize": 12, "labelAlign": "right", "labelBaseline": "middle", "labelPadding": 10, "labelAngle": 0, "labelOffset": 43}},
    "y": {"field": "item", "type": "nominal", "scale": {"type": "point", "domain": ["Base rate", "10Y Bond yield", "EUR/SEK", "USD/SEK"], "range": [21.3, 113], "padding": 0},
          "axis": {"orient": "left", "offset": -209, "title": null, "domain": false, "ticks": false, "tickSize": 0, "labelAlign": "left", "labelPadding": -4, "labelFontSize": 12, "labelBaseline": "middle"}},
    "text": {"field": "v", "type": "quantitative", "format": ".2f"}
   }},
  {"width": 843, "height": 26, "data": {"values": []}, "mark": "point",
   "encoding": {"x": {"datum": 0, "type": "quantitative", "scale": {"domain": [0, 1], "range": [204, 773], "nice": false}, "axis": {"orient": "top", "labels": false, "ticks": false, "grid": false, "title": null, "domainColor": "black", "domainWidth": 1}}},
   "title": {"text": "Source: Handelsbanken Capital Markets", "fontSize": 10.5, "fontWeight": "normal", "dx": 207, "offset": -20.5}},
  {"width": 843, "height": 50, "data": {"values": []}, "mark": "point", "title": {"text": "Sweden macro assumptions", "fontSize": 15, "dx": 39, "offset": -30.9}},
  {"width": 843, "height": 159, "data": {"name": "macro"},
   "mark": {"type": "text", "align": "right", "baseline": "middle", "fontSize": 12},
   "encoding": {
    "x": {"field": "col", "type": "nominal", "bandPosition": 1, "scale": {"type": "band", "domain": ["2008", "2009", "2010f", "2011f", "2012f"], "range": [35, 739], "paddingInner": 0, "paddingOuter": 0.951, "align": 0.974},
          "axis": {"orient": "top", "title": null, "ticks": false, "tickSize": 0, "domainColor": "black", "domainWidth": 1, "labelFontWeight": "bold", "labelFontSize": 12, "labelAlign": "right", "labelBaseline": "middle", "labelPadding": 9, "labelAngle": 0, "labelOffset": 51}},
    "y": {"field": "item", "type": "nominal", "scale": {"type": "point", "domain": ["Household consumption", "Public consumption", "Gross fixed investment", "Exports", "Imports", "GDP calendar-adjusted", "Unemployment rate", "Consumer prices", "CPIF"], "range": [8.3, 145.7], "padding": 0},
          "axis": {"orient": "left", "offset": -35, "title": null, "domain": false, "ticks": false, "tickSize": 0, "labelAlign": "left", "labelPadding": -4.9, "labelFontSize": 12, "labelBaseline": "middle", "labelLimit": 300}},
    "text": {"field": "v", "type": "quantitative", "format": ".1f"}
   }},
  {"width": 843, "height": 31, "data": {"values": []}, "mark": "point",
   "encoding": {"x": {"datum": 0, "type": "quantitative", "scale": {"domain": [0, 1], "range": [31, 772], "nice": false}, "axis": {"orient": "top", "labels": false, "ticks": false, "grid": false, "title": null, "domainColor": "black", "domainWidth": 1}}},
   "title": {"text": "Source: Handelsbanken Capital Markets", "fontSize": 10.5, "fontWeight": "normal", "dx": 35, "offset": -17}}
]
}
